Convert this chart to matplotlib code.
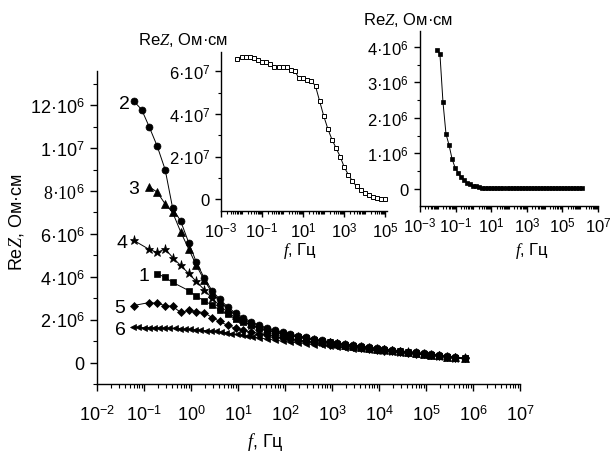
import numpy as np
import matplotlib
matplotlib.use('Agg')
import matplotlib.pyplot as plt
import matplotlib.ticker as mtick

plt.rcParams['font.family'] = ['Liberation Sans', 'DejaVu Sans']
plt.rcParams['mathtext.fontset'] = 'custom'
plt.rcParams['mathtext.rm'] = 'Liberation Sans'
plt.rcParams['mathtext.it'] = 'Liberation Serif:italic'

# log10 of frequency (Hz), common grid for curves 1-5
lg_f = [-1.22, -1.05, -0.89, -0.72, -0.55, -0.39, -0.22, -0.05, 0.11, 0.28,
        0.45, 0.61, 0.78, 0.95, 1.11, 1.28, 1.45, 1.61, 1.78, 1.95,
        2.11, 2.28, 2.45, 2.61, 2.78, 2.95, 3.11, 3.28, 3.45, 3.61,
        3.78, 3.95, 4.11, 4.28, 4.45, 4.61, 4.78, 4.95, 5.11, 5.28,
        5.45, 5.61, 5.83]

# ReZ, 10^6 Ohm*cm (None = no point at that frequency)
rez_1 = [None, None, None, 4.15, 3.97, 3.74, None, 3.36, 3.10, 2.88,
         2.68, 2.45, 2.25, 2.05, 1.90, 1.76, 1.63, 1.52, 1.43, 1.35,
         1.28, 1.20, 1.13, 1.06, 1.00, 0.94, 0.88, 0.83, 0.78, 0.73,
         0.69, 0.64, 0.60, 0.56, 0.52, 0.48, 0.44, 0.40, 0.36, 0.32,
         0.27, 0.23, 0.19]
rez_2 = [12.2, 11.8, 11.0, 10.1, 9.0, 7.2, 6.6, 5.6, 4.7, 3.95,
         3.35, 2.95, 2.60, 2.30, 2.10, 1.90, 1.75, 1.62, 1.52, 1.42,
         1.33, 1.25, 1.17, 1.10, 1.03, 0.97, 0.92, 0.87, 0.82, 0.77,
         0.72, 0.67, 0.63, 0.59, 0.55, 0.51, 0.47, 0.43, 0.39, 0.34,
         0.29, 0.25, 0.19]
rez_3 = [None, None, 8.2, 7.95, 7.4, 7.0, 6.1, 5.3, 4.55, 3.85,
         3.25, 2.85, 2.50, 2.22, 2.02, 1.84, 1.69, 1.57, 1.47, 1.38,
         1.29, 1.21, 1.14, 1.07, 1.00, 0.94, 0.89, 0.84, 0.79, 0.74,
         0.69, 0.65, 0.61, 0.57, 0.53, 0.49, 0.45, 0.41, 0.37, 0.33,
         0.28, 0.24, 0.19]
rez_4 = [5.7, None, 5.28, 5.14, 5.3, 4.9, 4.53, 4.16, 3.79, 3.40,
         3.00, 2.65, 2.35, 2.10, 1.92, 1.76, 1.62, 1.51, 1.42, 1.33,
         1.26, 1.18, 1.11, 1.04, 0.98, 0.92, 0.87, 0.82, 0.77, 0.72,
         0.68, 0.63, 0.59, 0.55, 0.51, 0.47, 0.43, 0.40, 0.36, 0.32,
         0.27, 0.23, 0.19]
rez_5 = [2.66, None, 2.80, 2.76, 2.66, 2.62, 2.34, 2.43, 2.38, 2.33,
         2.10, 1.92, 1.73, 1.60, 1.50, 1.42, 1.35, 1.28, 1.21, 1.15,
         1.09, 1.04, 0.99, 0.94, 0.89, 0.84, 0.80, 0.76, 0.72, 0.68,
         0.64, 0.60, 0.56, 0.53, 0.49, 0.45, 0.42, 0.38, 0.35, 0.31,
         0.27, 0.23, 0.19]

# curve 6 was measured on a denser grid at low frequency
lg_f6 = [-1.23, -1.12, -1.01, -0.90, -0.79, -0.68, -0.57, -0.46, -0.35, -0.24,
         -0.13, -0.02, 0.09, 0.20, 0.31, 0.42, 0.53, 0.64, 0.75, 0.86,
         0.97, 1.08, 1.19, 1.30, 1.45, 1.61, 1.78, 1.95, 2.11, 2.28,
         2.45, 2.61, 2.78, 2.95, 3.11, 3.28, 3.45, 3.61, 3.78, 3.95,
         4.11, 4.28, 4.45, 4.61, 4.78, 4.95, 5.11, 5.28, 5.45, 5.61,
         5.83]
rez_6 = [1.64, 1.64, 1.63, 1.63, 1.62, 1.62, 1.61, 1.60, 1.60, 1.58,
         1.56, 1.55, 1.53, 1.51, 1.49, 1.47, 1.45, 1.42, 1.39, 1.35,
         1.31, 1.27, 1.24, 1.20, 1.15, 1.10, 1.05, 1.00, 0.96, 0.92,
         0.88, 0.84, 0.80, 0.76, 0.72, 0.68, 0.65, 0.61, 0.58, 0.55,
         0.52, 0.49, 0.46, 0.43, 0.40, 0.37, 0.34, 0.31, 0.27, 0.23,
         0.19]

# left inset: ReZ, 10^7 Ohm*cm
lg_in1 = [-2.2, -2.0, -1.8, -1.6, -1.4, -1.2, -1.0, -0.8, -0.6, -0.4,
          -0.2, 0.0, 0.2, 0.4, 0.6, 0.8, 1.0, 1.2, 1.4, 1.6,
          1.8, 2.0, 2.2, 2.4, 2.6, 2.8, 3.0, 3.2, 3.4, 3.6,
          3.8, 4.0, 4.2, 4.4, 4.6, 4.8, 5.0]
rez_in1 = [6.59, 6.67, 6.68, 6.65, 6.60, 6.52, 6.45, 6.42, 6.34, 6.21,
           6.18, 6.18, 6.18, 6.05, 6.00, 5.66, 5.66, 5.61, 5.55, 5.30,
           4.60, 3.90, 3.30, 2.80, 2.40, 2.00, 1.50, 1.15, 0.85, 0.60,
           0.45, 0.30, 0.22, 0.12, 0.08, 0.03, 0.02]

# right inset: ReZ, 10^6 Ohm*cm
lg_in2 = [-2.04, -1.88, -1.71, -1.54, -1.37, -1.20, -1.03, -0.86, -0.69, -0.52,
          -0.35, -0.18, -0.01, 0.16, 0.33, 0.50, 0.67, 0.84, 1.01, 1.18,
          1.35, 1.52, 1.69, 1.86, 2.03, 2.20, 2.37, 2.54, 2.71, 2.88,
          3.05, 3.22, 3.39, 3.56, 3.73, 3.90, 4.07, 4.24, 4.41, 4.58,
          4.75, 4.92, 5.09, 5.26, 5.43, 5.60, 5.77, 5.94, 6.10]
rez_in2 = [3.92, 3.80, 2.45, 1.55, 1.24, 0.85, 0.60, 0.46, 0.33, 0.24,
           0.18, 0.13, 0.09, 0.07, 0.05, 0.04, 0.03, 0.03, 0.02, 0.02,
           0.02, 0.02, 0.02, 0.02, 0.02, 0.02, 0.02, 0.02, 0.02, 0.02,
           0.02, 0.02, 0.02, 0.02, 0.02, 0.02, 0.02, 0.02, 0.02, 0.02,
           0.02, 0.02, 0.02, 0.02, 0.02, 0.02, 0.02, 0.02, 0.02]

main_yticks = [0, 2, 4, 6, 8, 10, 12]
main_ylabels = ['0', '2·10$^{6}$', '4·10$^{6}$', '6·10$^{6}$',
                '8·10$^{6}$', '1·10$^{7}$', '12·10$^{6}$']
in1_yticks = [0, 2, 4, 6]
in1_ylabels = ['0', '2·10$^{7}$', '4·10$^{7}$', '6·10$^{7}$']
in2_yticks = [0, 1, 2, 3, 4]
in2_ylabels = ['0', '1·10$^{6}$', '2·10$^{6}$', '3·10$^{6}$', '4·10$^{6}$']

ylab = r'Re$Z$, Ом·см'
xlab = r'$f$, Гц'


def pts(lg, vals):
    x = [10 ** a for a, v in zip(lg, vals) if v is not None]
    y = [v for v in vals if v is not None]
    return x, y


def style_axes(ax, fs, major_len=5, minor_len=3, xpad=8):
    ax.set_xscale('log')
    ax.spines['top'].set_visible(False)
    ax.spines['right'].set_visible(False)
    for s in ('left', 'bottom'):
        ax.spines[s].set_linewidth(1.0)
    ax.set_facecolor('none')
    ax.tick_params(which='major', direction='out', length=major_len, width=1.0,
                   labelsize=fs, pad=4)
    ax.tick_params(which='minor', direction='out', length=minor_len, width=0.8)
    ax.tick_params(axis='x', which='major', pad=xpad)
    ax.xaxis.set_minor_locator(mtick.LogLocator(base=10, subs=(2, 3, 4, 5, 6, 7, 8, 9), numticks=30))
    ax.xaxis.set_minor_formatter(mtick.NullFormatter())
    ax.xaxis.set_major_formatter(mtick.FuncFormatter(lambda v, p: '10$^{%d}$' % round(np.log10(v))))


fig = plt.figure(figsize=(6.16, 4.52), dpi=100)

# main plot
ax = fig.add_axes([97 / 616, 1 - 385 / 452, 423 / 616, 313 / 452])
style_axes(ax, 13, xpad=10)
ax.set_xlim(1e-2, 1e7)
ax.set_ylim(-1, 13.6)
ax.xaxis.set_major_locator(mtick.LogLocator(base=10, numticks=30))
ax.set_yticks(main_yticks)
ax.set_yticklabels(main_ylabels)
ax.get_yticklabels()[4].set_fontfamily('Liberation Serif')
ax.yaxis.set_minor_locator(mtick.MultipleLocator(1))

curves = [
    ('6', lg_f6, rez_6, '<', 5.0, -7),
    ('5', lg_f, rez_5, 'D', 4.0, -9),
    ('1', lg_f, rez_1, 's', 4.3, -8),
    ('4', lg_f, rez_4, '*', 6.5, -6),
    ('3', lg_f, rez_3, '^', 5.3, -10),
    ('2', lg_f, rez_2, 'o', 5.0, -4),
]
for name, lg, vals, mk, ms, dx in curves:
    x, y = pts(lg, vals)
    ax.plot(x, y, color='black', lw=0.7, marker=mk, ms=ms,
            markerfacecolor='black', markeredgecolor='black', markeredgewidth=0.5)
    ax.annotate(name, (x[0], y[0]), xytext=(dx, 0), textcoords='offset pixels',
                ha='right', va='center_baseline', fontsize=14)

ax.set_xlabel(xlab, fontsize=13)
ax.xaxis.set_label_coords((265 - 97) / 423, (385 - 442) / 313)
ax.xaxis.label.set_va('center')
ax.set_ylabel(ylab, fontsize=13)
ax.yaxis.set_label_coords((17 - 97) / 423, (385 - 222) / 313)
ax.yaxis.label.set_va('center')

# left inset
ax1 = fig.add_axes([221 / 616, 1 - 212 / 452, 166 / 616, 159 / 452])
style_axes(ax1, 12, 4, 2, xpad=3)
ax1.set_xlim(1e-3, 1.2e5)
ax1.set_ylim(-0.55, 6.9)
ax1.xaxis.set_major_locator(mtick.FixedLocator([1e-3, 1e-1, 1e1, 1e3, 1e5]))
ax1.xaxis.set_minor_locator(mtick.LogLocator(base=10, subs=(1, 2, 3, 4, 5, 6, 7, 8, 9), numticks=30))
ax1.set_yticks(in1_yticks)
ax1.set_yticklabels(in1_ylabels)
ax1.yaxis.set_minor_locator(mtick.MultipleLocator(1))
x, y = pts(lg_in1, rez_in1)
ax1.plot(x, y, color='black', lw=0.7, marker='s', ms=3.3,
         markerfacecolor='white', markeredgecolor='black', markeredgewidth=0.7)
ax1.set_xlabel(xlab, fontsize=12)
ax1.xaxis.set_label_coords((300 - 221) / 166, (212 - 251) / 159)
ax1.xaxis.label.set_va('center')
fig.text(183 / 616, 1 - 40 / 452, ylab, fontsize=12, ha='center', va='center')

# right inset
ax2 = fig.add_axes([420 / 616, 1 - 207 / 452, 178 / 616, 175 / 452])
style_axes(ax2, 12, 4, 2, xpad=3)
ax2.set_xlim(1e-3, 1e7)
ax2.set_ylim(-0.48, 4.45)
ax2.xaxis.set_major_locator(mtick.FixedLocator([1e-3, 1e-1, 1e1, 1e3, 1e5, 1e7]))
ax2.xaxis.set_minor_locator(mtick.LogLocator(base=10, subs=(1, 2, 3, 4, 5, 6, 7, 8, 9), numticks=30))
ax2.set_yticks(in2_yticks)
ax2.set_yticklabels(in2_ylabels)
ax2.yaxis.set_minor_locator(mtick.MultipleLocator(0.5))
x, y = pts(lg_in2, rez_in2)
ax2.plot(x, y, color='black', lw=0.7, marker='s', ms=3.3,
         markerfacecolor='black', markeredgecolor='black', markeredgewidth=0.5)
ax2.set_xlabel(xlab, fontsize=12)
ax2.xaxis.set_label_coords((532 - 420) / 178, (207 - 251) / 175)
ax2.xaxis.label.set_va('center')
fig.text(408 / 616, 1 - 20 / 452, ylab, fontsize=12, ha='center', va='center')

fig.savefig('out.png', dpi=100)
